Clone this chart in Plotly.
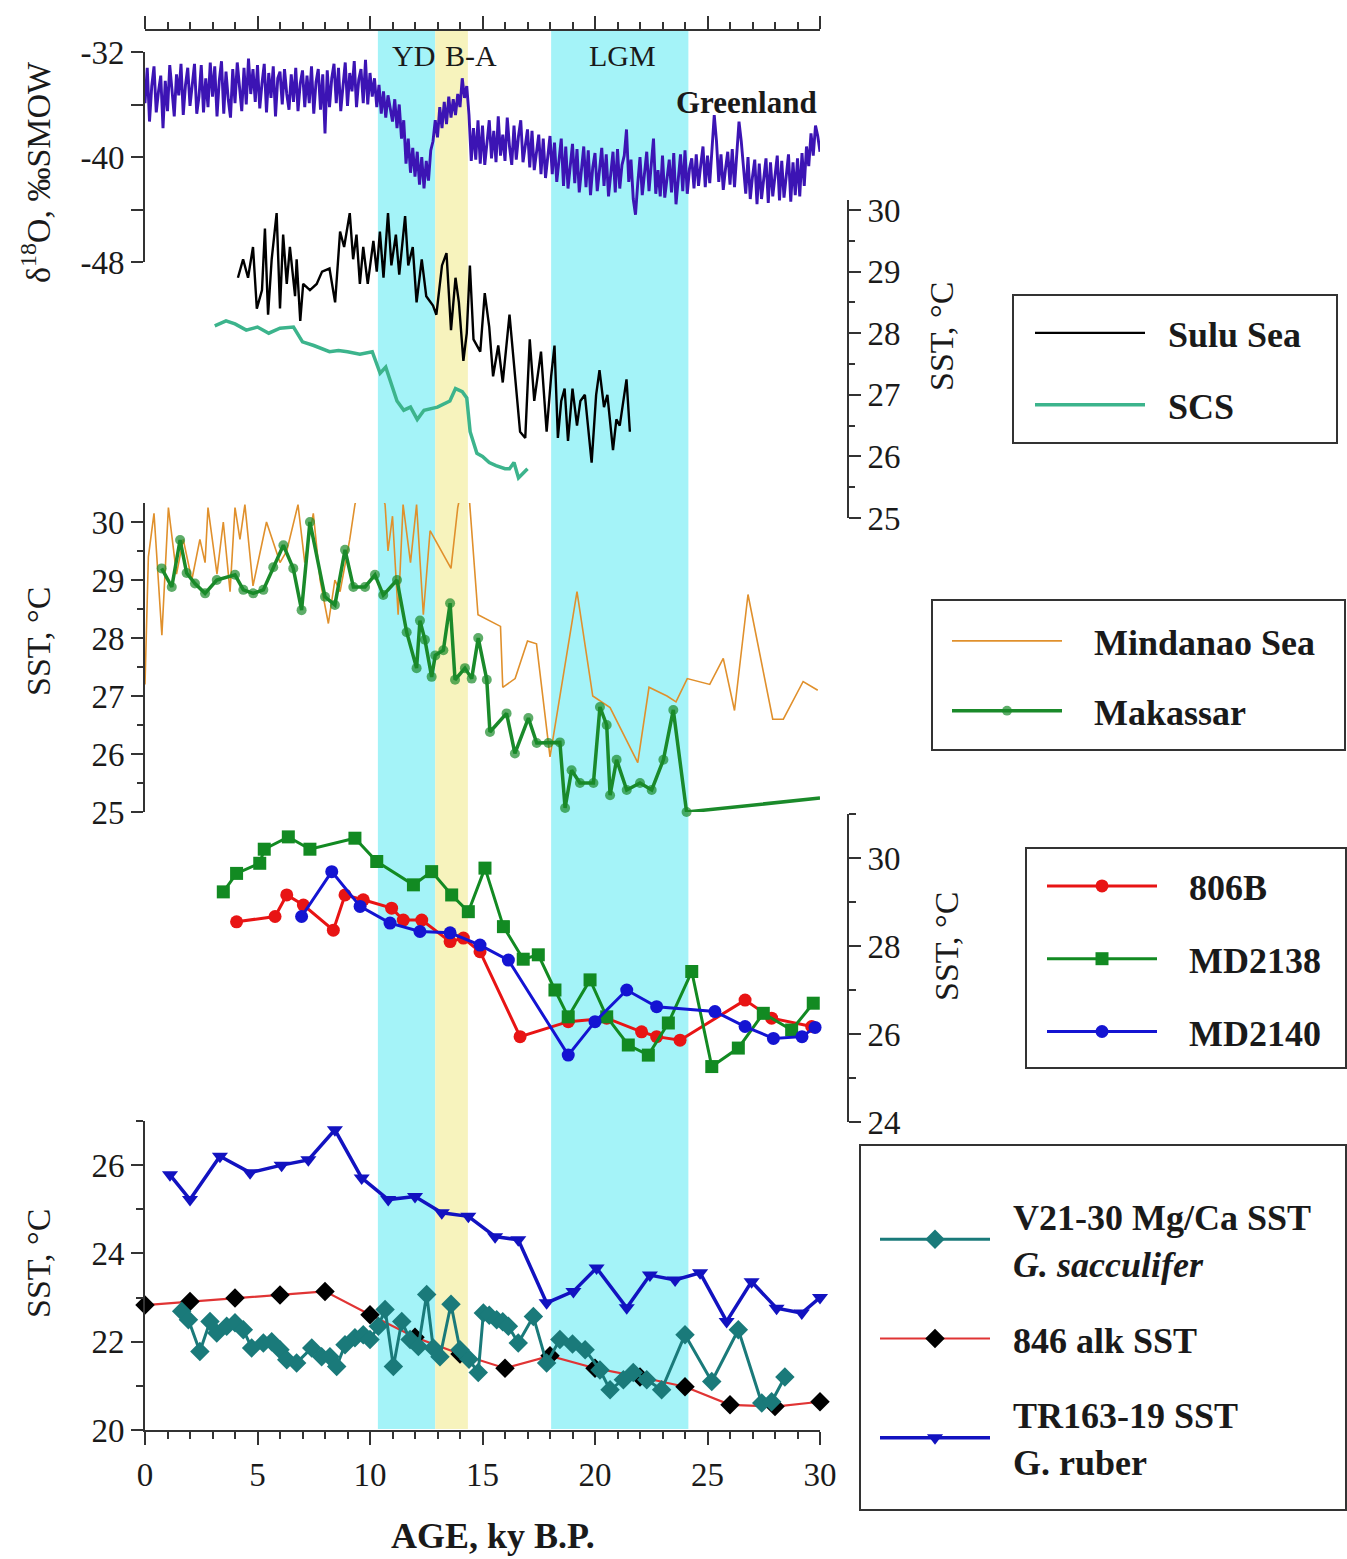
import plotly.graph_objects as go

W, H = 1347, 1559
FONT = "Liberation Serif"
TXT = "#1a1a1a"
AX = "#333333"

# ---------------- data ----------------
greenland_d18o = [
    -35.9,-33.2,-37.3,-34.6,-33.1,-36.6,-35.0,-33.8,-37.8,-34.2,
    -36.5,-33.0,-34.9,-36.9,-33.7,-35.3,-32.9,-36.8,-34.5,-33.2,
    -36.1,-34.2,-32.9,-36.7,-35.4,-33.0,-36.6,-34.0,-36.2,-32.8,
    -35.4,-33.1,-36.9,-34.2,-32.7,-36.7,-33.5,-35.6,-37.0,-33.3,
    -35.9,-32.8,-34.6,-36.5,-33.2,-36.0,-32.5,-35.2,-33.3,-35.8,
    -33.0,-36.3,-34.4,-32.9,-36.6,-33.6,-35.5,-33.1,-36.9,-34.0,
    -33.5,-36.0,-33.3,-35.2,-36.4,-33.7,-35.8,-33.2,-36.5,-34.4,
    -33.4,-36.2,-33.8,-35.9,-33.1,-36.7,-34.3,-33.3,-36.4,-33.7,
    -38.2,-33.4,-36.2,-34.0,-32.9,-35.9,-33.2,-36.5,-34.6,-32.8,
    -36.1,-33.6,-35.0,-32.7,-36.2,-34.1,-33.3,-35.9,-32.6,-36.0,
    -33.6,-35.4,-34.0,-36.2,-34.5,-36.7,-35.0,-37.0,-35.3,-36.4,
    -37.3,-35.6,-37.8,-36.0,-38.6,-37.2,-40.5,-38.6,-41.2,-39.3,
    -41.5,-39.6,-42.1,-40.0,-42.4,-40.3,-41.8,-39.5,-38.8,-37.2,
    -38.5,-36.2,-37.8,-35.8,-37.5,-35.4,-37.0,-35.6,-36.8,-35.2,
    -36.2,-34.0,-35.5,-34.6,-36.8,-40.3,-37.8,-40.2,-37.2,-40.5,
    -37.6,-40.6,-38.8,-37.2,-40.1,-38.0,-40.4,-36.9,-39.9,-38.3,
    -40.3,-37.0,-39.2,-40.6,-37.6,-40.2,-38.4,-37.2,-40.4,-38.9,
    -37.9,-40.8,-38.0,-41.0,-39.5,-38.3,-41.3,-38.6,-41.6,-39.8,
    -38.4,-41.3,-38.9,-41.9,-40.2,-38.6,-42.2,-39.2,-42.4,-40.6,
    -39.0,-42.0,-39.4,-42.7,-41.1,-39.2,-42.3,-39.5,-42.9,-40.8,
    -39.7,-42.6,-41.0,-39.3,-42.2,-39.8,-43.0,-41.3,-39.6,-42.7,
    -39.4,-42.4,-40.6,-39.9,-37.9,-41.9,-40.2,-43.2,-44.4,-42.0,
    -40.0,-42.9,-41.2,-39.6,-42.6,-40.2,-38.6,-42.8,-41.0,-43.0,
    -39.9,-43.1,-41.4,-40.2,-42.7,-39.7,-43.6,-41.9,-39.8,-42.6,
    -39.5,-42.8,-40.9,-40.1,-42.4,-39.8,-42.2,-40.6,-39.2,-42.3,
    -39.9,-42.0,-39.6,-36.8,-38.8,-41.9,-39.8,-42.5,-40.9,-39.6,
    -42.1,-39.4,-42.3,-39.9,-37.3,-38.8,-40.8,-42.8,-40.0,-43.2,
    -41.5,-40.2,-43.6,-40.5,-43.2,-41.8,-40.1,-43.5,-40.4,-43.0,
    -41.2,-39.9,-43.3,-40.3,-43.1,-41.6,-39.8,-43.4,-40.4,-42.9,
    -40.1,-43.0,-39.7,-42.2,-39.2,-40.7,-38.2,-39.9,-37.6,-38.4,
    -39.6,
]
greenland_age = [i / 10 for i in range(len(greenland_d18o))]

sulu_age = [4.13,4.36,4.58,4.8,4.97,5.2,5.33,5.47,5.63,5.85,6.0,6.14,6.3,6.44,6.67,6.74,6.9,7.03,
            7.33,7.63,7.87,8.2,8.45,8.67,8.85,9.1,9.25,9.4,9.55,9.7,9.9,10.15,10.3,10.44,10.6,10.8,
            10.95,11.15,11.3,11.56,11.7,11.9,12.07,12.3,12.5,12.8,12.95,13.2,13.4,13.6,13.8,13.95,
            14.15,14.3,14.44,14.6,14.9,15.1,15.3,15.47,15.7,15.9,16.2,16.4,16.67,16.9,17.1,17.3,
            17.6,17.85,18.05,18.2,18.35,18.5,18.65,18.8,19.0,19.2,19.35,19.55,19.7,19.85,20.05,
            20.2,20.4,20.55,20.8,20.95,21.1,21.4,21.55]
sulu_sst = [28.9,29.2,28.9,29.4,28.4,28.7,29.7,28.3,29.2,29.95,28.4,29.6,28.8,29.4,28.6,29.2,28.2,28.8,
            28.7,28.8,29.0,29.05,28.5,29.65,29.4,29.95,29.2,29.6,28.8,29.4,28.8,29.5,29.0,29.65,28.9,29.95,
            29.1,29.6,28.95,29.9,29.1,29.4,28.5,29.2,28.6,28.45,28.3,29.1,29.3,28.05,28.9,28.5,
            27.55,28.0,29.1,27.9,27.7,28.65,28.1,27.3,27.8,27.2,28.3,27.5,26.4,26.3,27.9,26.9,
            27.7,26.4,27.3,27.8,26.3,26.9,27.1,26.25,27.1,26.5,26.9,27.0,26.4,25.9,27.0,
            27.4,26.8,27.0,26.1,26.6,26.5,27.25,26.4]

scs_age = [3.1,3.6,4.0,4.5,5.0,5.5,6.0,6.6,7.0,7.5,8.2,8.6,9.0,9.55,10.1,10.45,10.7,11.2,11.5,11.8,
           12.1,12.4,13.0,13.3,13.55,13.8,14.1,14.3,14.45,14.75,15.0,15.3,15.6,16.0,16.2,16.4,16.6,17.0]
scs_sst = [28.12,28.2,28.15,28.05,28.1,28.0,28.08,28.1,27.86,27.8,27.7,27.72,27.7,27.66,27.7,27.35,27.45,
           26.9,26.75,26.8,26.6,26.75,26.8,26.85,26.9,27.1,27.05,26.95,26.4,26.05,26.0,25.9,25.85,
           25.8,25.8,25.9,25.65,25.8]

mindanao_age = [0,0.15,0.4,0.75,1.04,1.4,1.7,2.08,2.44,2.67,2.8,3.2,3.48,3.78,4.0,4.22,4.44,4.8,5.4,6.0,
                6.3,6.8,7.1,7.48,7.78,8.15,8.44,8.67,9.1,9.33,9.9,10.67,10.8,11.0,11.25,11.47,11.8,12.07,
                12.37,12.67,13.6,13.9,14.3,14.8,15.8,15.9,16.45,17.0,17.4,18.0,19.2,19.9,20.67,21.9,
                22.4,23.2,23.6,24.1,25.1,25.7,26.2,26.8,27.9,28.37,29.25,29.9]
mindanao_sst = [27.2,29.4,30.15,28.05,30.25,29.1,29.7,29.0,29.7,29.3,30.25,29.1,30.0,28.8,30.25,29.7,30.3,
                28.9,30.0,29.3,29.5,30.3,29.3,30.15,29.0,28.25,29.0,28.8,29.7,30.3,31.2,30.3,29.5,30.1,
                28.4,30.3,29.3,30.3,28.4,29.85,29.2,30.25,31.0,28.4,28.2,27.15,27.3,27.95,27.9,25.95,
                28.8,27.0,26.8,25.85,27.15,27.0,26.9,27.3,27.2,27.65,26.75,28.75,26.6,26.6,27.25,27.1]

makassar_age = [0.74,1.19,1.56,1.85,2.22,2.67,3.19,4.0,4.37,4.81,5.26,5.7,6.15,6.59,6.96,7.33,8.0,8.44,
                8.89,9.26,9.78,10.22,10.59,11.2,11.63,12.07,12.22,12.44,12.74,12.9,13.26,13.56,13.78,
                14.22,14.52,14.81,15.19,15.33,16.07,16.44,17.04,17.41,17.93,18.44,18.67,18.96,19.33,
                19.93,20.22,20.52,20.67,20.96,21.41,22.0,22.52,23.04,23.48,24.07,30.0]
makassar_sst = [29.2,28.88,29.69,29.12,28.94,28.77,29.0,29.09,28.83,28.77,28.83,29.22,29.6,29.2,28.48,
                30.0,28.71,28.57,29.52,28.88,28.88,29.09,28.74,29.0,28.1,27.48,28.3,27.97,27.33,27.7,
                27.79,28.6,27.28,27.48,27.3,28.0,27.28,26.38,26.7,26.01,26.62,26.19,26.19,26.2,25.07,
                25.72,25.5,25.5,26.81,26.5,25.29,25.9,25.38,25.5,25.38,25.9,26.76,25.0,25.24]

odp806b_age = [4.07,5.78,6.3,7.04,8.37,8.89,9.7,10.96,11.48,12.3,13.56,14.15,14.89,16.67,18.81,20.52,
               22.07,22.74,23.78,26.67,27.85,29.63]
odp806b_sst = [28.55,28.67,29.16,28.93,28.36,29.16,29.05,28.86,28.59,28.59,28.1,28.18,27.87,25.94,26.28,
               26.36,26.05,25.94,25.86,26.77,26.36,26.17]

md2138_age = [3.48,4.07,5.1,5.3,6.37,7.33,9.33,10.3,11.93,12.74,13.63,14.37,15.11,15.93,16.81,17.48,
              18.22,18.81,19.78,20.52,21.48,22.37,23.26,24.3,25.19,26.37,27.48,28.74,29.7]
md2138_sst = [29.23,29.65,29.88,30.2,30.48,30.2,30.45,29.92,29.39,29.69,29.16,28.78,29.77,28.44,27.7,
              27.8,27.0,26.39,27.23,26.39,25.75,25.52,26.25,27.42,25.26,25.68,26.47,26.09,26.7]

md2140_age = [6.96,8.3,9.56,10.89,12.22,13.56,14.89,16.15,18.81,20.0,21.41,22.74,25.33,26.67,27.93,
              29.2,29.78]
md2140_sst = [28.67,29.69,28.9,28.52,28.33,28.3,28.02,27.68,25.52,26.28,27.0,26.62,26.51,26.17,25.9,
              25.94,26.15]

v2130_age = [1.63,1.93,2.44,2.89,3.19,3.63,4.0,4.37,4.74,5.26,5.63,6.0,6.3,6.74,7.41,7.85,8.22,8.52,
             8.89,9.33,9.7,10.0,10.37,10.67,11.04,11.41,11.78,12.15,12.52,12.81,13.11,13.6,14.0,14.4,
             14.81,15.04,15.3,15.63,15.9,16.15,16.59,17.26,17.85,18.44,19.0,19.56,20.22,20.67,21.26,
             21.7,22.3,22.96,24.0,25.19,26.37,27.41,27.85,28.44]
v2130_sst = [22.69,22.5,21.78,22.46,22.2,22.35,22.43,22.27,21.86,21.97,22.0,21.82,21.59,21.52,21.86,
             21.66,21.66,21.44,21.93,22.09,22.16,22.05,22.35,22.73,21.44,22.46,22.05,21.89,23.07,21.86,
             21.66,22.85,21.82,21.6,21.3,22.65,22.6,22.5,22.45,22.35,21.97,22.57,21.52,22.05,21.95,
             21.82,21.36,20.91,21.14,21.3,21.14,20.91,22.16,21.1,22.27,20.61,20.64,21.2]

odp846_age = [0,2,4,6,8,10,12,14,16,18,20,22,24,26,28,30]
odp846_sst = [22.83,22.91,22.99,23.06,23.14,22.61,22.1,21.72,21.4,21.68,21.4,21.2,20.98,20.57,20.53,20.64]

tr16319_age = [1.11,2.0,3.33,4.67,6.07,7.26,8.44,9.63,10.81,12.0,13.19,14.37,15.56,16.59,17.85,19.04,
               20.07,21.41,22.44,23.56,24.67,25.85,26.96,28.07,29.19,30.0]
tr16319_sst = [25.78,25.22,26.2,25.83,26.0,26.12,26.8,25.71,25.22,25.29,24.92,24.84,24.38,24.31,22.88,
               23.14,23.67,22.77,23.51,23.4,23.56,22.46,23.36,22.76,22.65,23.0]

# climate intervals (ky B.P.)
bands = [("YD", 10.35, 12.9, "#a4f3f8"), ("B-A", 12.9, 14.35, "#f7f3bd"), ("LGM", 18.05, 24.15, "#a4f3f8")]

# ---------------- figure ----------------
def py(p):
    return 1 - p / H

NB = "&nbsp;"
fig = go.Figure()

def line_trace(x, y, ya, name, color, width, legend=None, marker=None, mode="lines", rank=None):
    kw = dict(x=x, y=y, xaxis="x", yaxis=ya, mode=mode, name=name,
              line=dict(color=color, width=width), hoverinfo="skip")
    if marker is not None:
        kw["marker"] = marker
        kw["cliponaxis"] = False
    if legend is None:
        kw["showlegend"] = False
    else:
        kw["legend"] = legend
        kw["legendgroup"] = name
    if rank is not None:
        kw["legendrank"] = rank
    return go.Scatter(**kw)

fig.add_trace(line_trace(greenland_age, greenland_d18o, "y", "Greenland", "#3c14b4", 2.9))
fig.add_trace(line_trace(sulu_age, sulu_sst, "y3", NB * 2 + "<b>Sulu Sea</b>", "#000000", 2.4, legend="legend"))
fig.add_trace(line_trace(scs_age, scs_sst, "y3", NB * 2 + "<b>SCS</b>", "#3cb48c", 3.5, legend="legend"))
fig.add_trace(line_trace(mindanao_age, mindanao_sst, "y4", NB * 3 + "<b>Mindanao Sea</b>", "#e0902c", 1.6,
                         legend="legend2"))
mk_sizes = [10] * (len(makassar_age) - 1) + [0]
fig.add_trace(line_trace(makassar_age, makassar_sst, "y4", NB * 3 + "<b>Makassar</b>", "#1a8a2a", 3.5,
                         legend="legend2",
                         marker=dict(symbol="circle", size=mk_sizes, color="#1a8a2a", line=dict(width=0)),
                         mode="lines+markers"))
fig.add_trace(line_trace(odp806b_age, odp806b_sst, "y5", NB * 3 + "<b>806B</b>", "#e81414", 3.0, legend="legend3",
                         marker=dict(symbol="circle", size=13, color="#e81414"), mode="lines+markers"))
fig.add_trace(line_trace(md2138_age, md2138_sst, "y5", NB * 3 + "<b>MD2138</b>", "#128a22", 3.0, legend="legend3",
                         marker=dict(symbol="square", size=13, color="#128a22"), mode="lines+markers"))
fig.add_trace(line_trace(md2140_age, md2140_sst, "y5", NB * 3 + "<b>MD2140</b>", "#1414d2", 3.0, legend="legend3",
                         marker=dict(symbol="circle", size=13, color="#1414d2"), mode="lines+markers"))
fig.add_trace(line_trace(tr16319_age, tr16319_sst, "y6",
                         NB * 2 + "<b>TR163-19 SST</b><br>" + NB * 2 + "<b>G. ruber</b>", "#1212c0", 3.5,
                         legend="legend4", marker=dict(symbol="triangle-down", size=14, color="#1212c0"),
                         mode="lines+markers", rank=3))
fig.add_trace(line_trace(odp846_age, odp846_sst, "y6", NB * 2 + "<b>846 alk SST</b>", "#e03434", 2.2,
                         legend="legend4", marker=dict(symbol="diamond", size=15, color="#000000"),
                         mode="lines+markers", rank=2))
fig.add_trace(line_trace(v2130_age, v2130_sst, "y6",
                         NB * 2 + "<b>V21-30 Mg/Ca SST</b><br>" + NB * 2 + "<b><i>G. sacculifer</i></b>",
                         "#1a7a7a", 3.0, legend="legend4",
                         marker=dict(symbol="diamond", size=15, color="#1a7a7a"),
                         mode="lines+markers", rank=1))
# carrier trace for the top age axis
fig.add_trace(go.Scatter(x=[0, 30], y=[None, None], xaxis="x2", yaxis="y", showlegend=False, hoverinfo="skip"))

# ---------------- axes ----------------
tickfont = dict(family=FONT, size=33, color=TXT)
common_y = dict(showgrid=False, zeroline=False, showline=True, linecolor=AX, linewidth=2,
                ticks="outside", ticklen=12, tickwidth=2, tickcolor=AX, tickfont=tickfont, fixedrange=True)
xcommon = dict(domain=[145 / W, 820 / W], range=[0, 30], showgrid=False, zeroline=False, showline=True,
               linecolor=AX, linewidth=2, ticks="outside", ticklen=13, tickwidth=2, tickcolor=AX,
               tickmode="linear", tick0=0, dtick=5,
               minor=dict(dtick=1, ticks="outside", ticklen=7, tickwidth=2, tickcolor=AX),
               tickfont=tickfont)

def yrange(lo, px_lo, px_hi, px_per_unit):
    return [lo, lo + (px_lo - px_hi) / px_per_unit]

fig.update_layout(
    xaxis=dict(**xcommon, anchor="y6", ticklabelstandoff=1),
    xaxis2=dict(**xcommon, overlaying="x", matches="x", anchor="free", position=py(30), side="top",
                showticklabels=False),
    yaxis=dict(**common_y, domain=[py(262), py(52)], range=[-48, -32], anchor="x",
               tickmode="array", tickvals=[-48, -40, -32], ticktext=["-48", "-40", "-32"],
               minor=dict(tickvals=[-44, -36], ticks="outside", ticklen=12, tickwidth=2, tickcolor=AX)),
    yaxis3=dict(**common_y, domain=[py(518), py(200)], range=yrange(25, 518, 200, 61.6),
                anchor="free", position=848 / W, side="right",
                tickmode="array", tickvals=[25, 26, 27, 28, 29, 30],
                minor=dict(dtick=0.5, ticks="outside", ticklen=6, tickwidth=2, tickcolor=AX)),
    yaxis4=dict(**common_y, domain=[py(812), py(503)], range=yrange(25, 812, 503, 58.0), anchor="x",
                tickmode="array", tickvals=[25, 26, 27, 28, 29, 30],
                minor=dict(dtick=0.5, ticks="outside", ticklen=6, tickwidth=2, tickcolor=AX)),
    yaxis5=dict(**common_y, domain=[py(1122), py(814)], range=[24, 31], anchor="free",
                position=848 / W, side="right", tickmode="array", tickvals=[24, 26, 28, 30],
                minor=dict(dtick=1, ticks="outside", ticklen=7, tickwidth=2, tickcolor=AX)),
    yaxis6=dict(**common_y, domain=[py(1430), py(1121)], range=[20, 27], anchor="x",
                tickmode="array", tickvals=[20, 22, 24, 26],
                minor=dict(dtick=1, ticks="outside", ticklen=7, tickwidth=2, tickcolor=AX)),
)

# ---------------- shaded intervals + legend frames ----------------
shapes = []
for label, a, b, col in bands:
    shapes.append(dict(type="rect", xref="x", yref="paper", x0=a, x1=b, y0=py(1429), y1=py(31),
                       fillcolor=col, line=dict(width=0), layer="below"))
for (x0, y0, x1, y1) in [(1013, 295, 1337, 443), (932, 600, 1345, 750), (1026, 848, 1346, 1068),
                         (860, 1145, 1346, 1510)]:
    shapes.append(dict(type="rect", xref="paper", yref="paper", x0=x0 / W, x1=x1 / W, y0=py(y1), y1=py(y0),
                       line=dict(color="#333333", width=2), fillcolor="rgba(0,0,0,0)", layer="above"))
fig.update_layout(shapes=shapes)

# ---------------- annotations ----------------
ann = []
def text(t, xp, yp, size=34, angle=0, xref="paper", xval=None):
    ann.append(dict(text=t, x=(xval if xval is not None else xp / W), y=py(yp), xref=xref, yref="paper",
                    showarrow=False, textangle=angle, xanchor="center", yanchor="middle",
                    font=dict(family=FONT, size=size, color=TXT)))

text("δ<sup>18</sup>O, ‰SMOW", 36, 172, angle=-90)
text("SST, °C", 38, 642, angle=-90)
text("SST, °C", 38, 1264, angle=-90)
text("SST, °C", 941, 337, angle=-90)
text("SST, °C", 946, 947, angle=-90)
text("<b>AGE, ky B.P.</b>", 493, 1536, size=36)
text("YD", 0, 55, size=30, xref="x", xval=11.95)
text("B-A", 0, 55, size=30, xref="x", xval=14.5)
text("LGM", 0, 55, size=30, xref="x", xval=21.2)
text("<b>Greenland</b>", 0, 103, size=31, xref="x", xval=26.75)
fig.update_layout(annotations=ann)

# ---------------- legends ----------------
def legend_box(xp, yp, gap):
    return dict(x=xp / W, y=py(yp), xref="paper", yref="paper", xanchor="left", yanchor="top",
                borderwidth=0, bgcolor="rgba(0,0,0,0)",
                font=dict(family=FONT, size=36, color=TXT), itemwidth=110, tracegroupgap=gap,
                traceorder="grouped", itemclick=False, itemdoubleclick=False)

fig.update_layout(
    legend=legend_box(1030, 303, 22),
    legend2=legend_box(947, 611, 20),
    legend3=legend_box(1042, 856, 23),
    legend4=legend_box(875, 1186, 26),
)

fig.update_layout(width=W, height=H, margin=dict(l=0, r=0, t=0, b=0, autoexpand=False), autosize=False,
                  paper_bgcolor="white", plot_bgcolor="rgba(0,0,0,0)",
                  font=dict(family=FONT, color=TXT))

fig.write_html("out.html")
